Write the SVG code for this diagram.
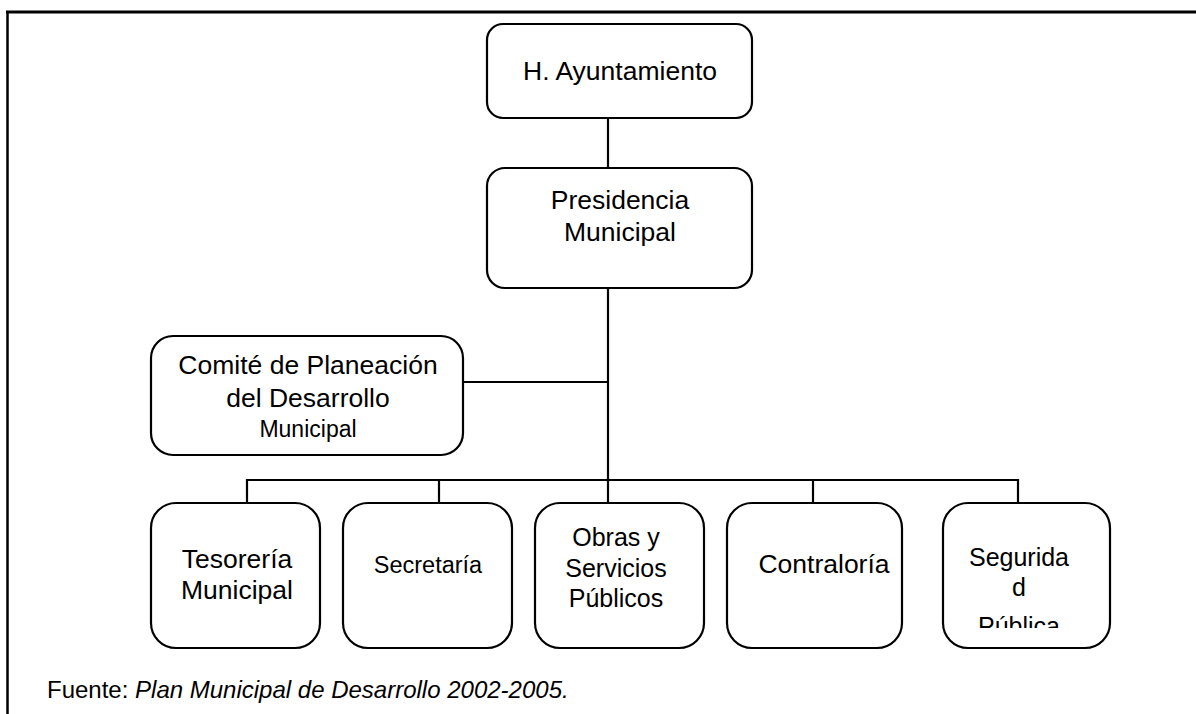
<svg xmlns="http://www.w3.org/2000/svg" width="1196" height="714" viewBox="0 0 1196 714">
<style>
.box{fill:#fff;stroke:#000;stroke-width:2.2}
.ln{stroke:#000;stroke-width:2.2;fill:none}
text{font-family:"Liberation Sans",Arial,sans-serif;font-size:26.5px;fill:#000;text-anchor:middle}
</style>
<defs><clipPath id="segClip"><rect x="943" y="503" width="167" height="125"/></clipPath></defs>
<rect width="1196" height="714" fill="#fff"/>
<g id="frame">
<line x1="6" y1="12" x2="1196" y2="12" stroke="#000" stroke-width="3"/>
<line x1="7.5" y1="11" x2="7.5" y2="714" stroke="#000" stroke-width="2.5"/>
</g>
<g id="connectors">
<line class="ln" x1="608" y1="118" x2="608" y2="168"/>
<line class="ln" x1="608" y1="288" x2="608" y2="503"/>
<line class="ln" x1="463" y1="382" x2="608" y2="382"/>
<polyline class="ln" points="247,503 247,480 1018,480 1018,503"/>
<line class="ln" x1="439" y1="480" x2="439" y2="503"/>
<line class="ln" x1="813" y1="480" x2="813" y2="503"/>
</g>
<g id="ayuntamiento">
<rect class="box" x="487" y="24" width="265" height="94" rx="16"/>
<text x="620" y="80">H. Ayuntamiento</text>
</g>
<g id="presidencia">
<rect class="box" x="487" y="168" width="265" height="120" rx="18"/>
<text x="620" y="209">Presidencia</text>
<text x="620" y="241">Municipal</text>
</g>
<g id="comite">
<rect class="box" x="151" y="336" width="312" height="119" rx="22"/>
<text x="308" y="374">Comité de Planeación</text>
<text x="308" y="407">del Desarrollo</text>
<text x="308" y="437" style="font-size:23px">Municipal</text>
</g>
<g id="tesoreria">
<rect class="box" x="151" y="503" width="169" height="145" rx="25"/>
<text x="237" y="568">Tesorería</text>
<text x="237" y="599">Municipal</text>
</g>
<g id="secretaria">
<rect class="box" x="343" y="503" width="169" height="145" rx="25"/>
<text x="428" y="573" style="font-size:23.5px">Secretaría</text>
</g>
<g id="obras">
<rect class="box" x="535" y="503" width="169" height="145" rx="25"/>
<text x="616" y="546" style="font-size:25px">Obras y</text>
<text x="616" y="577" style="font-size:25px">Servicios</text>
<text x="616" y="607" style="font-size:25px">Públicos</text>
</g>
<g id="contraloria">
<rect class="box" x="727" y="503" width="175" height="145" rx="25"/>
<text x="824" y="573">Contraloría</text>
</g>
<g id="seguridad">
<rect class="box" x="943" y="503" width="167" height="145" rx="25"/>
<g clip-path="url(#segClip)">
<text x="1019" y="566" style="font-size:25px">Segurida</text>
<text x="1019" y="596" style="font-size:25px">d</text>
<text x="1019" y="635" style="font-size:25px">Pública</text>
</g>
</g>
<g id="fuente">
<text x="47" y="698" style="text-anchor:start;font-size:24px">Fuente: <tspan style="font-style:italic">Plan Municipal de Desarrollo 2002-2005.</tspan></text>
</g>
</svg>
